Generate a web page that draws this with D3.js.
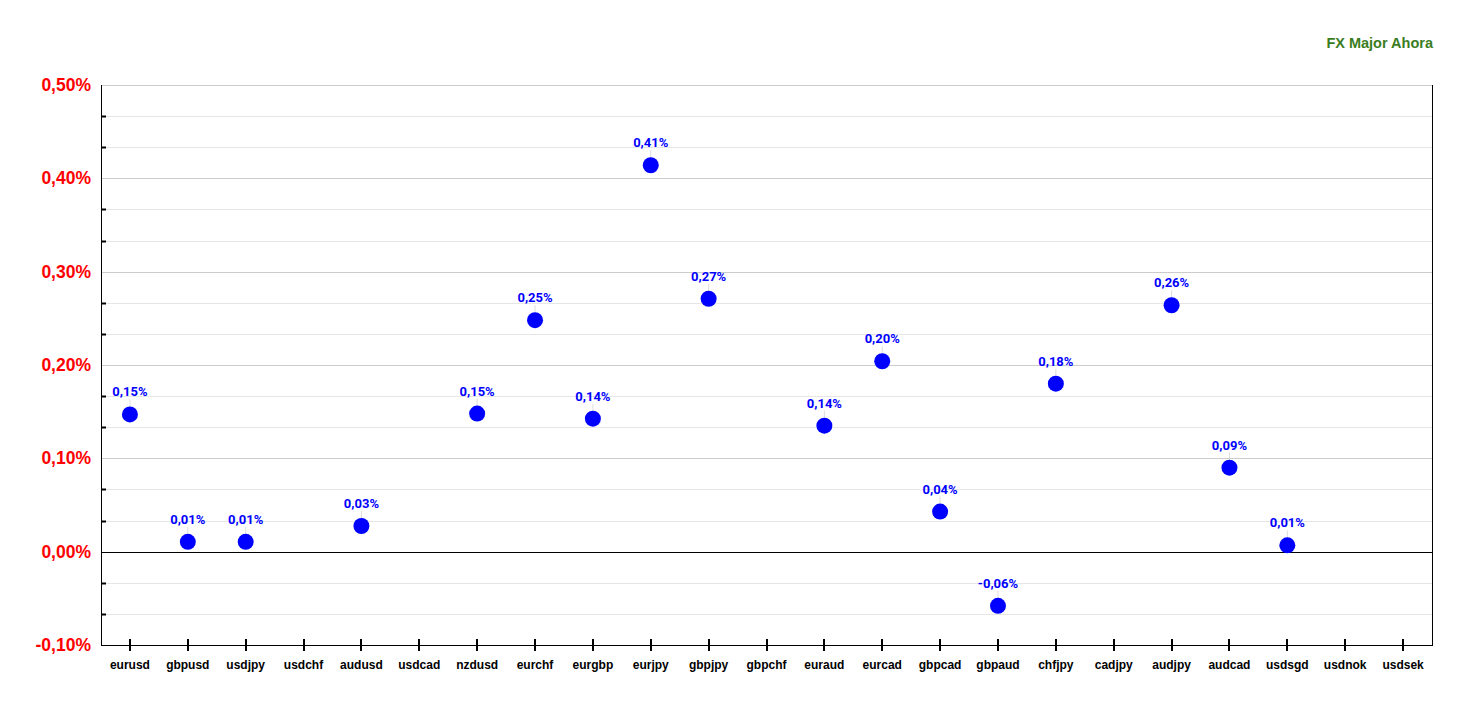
<!DOCTYPE html>
<html><head><meta charset="utf-8">
<script src="https://cdn.jsdelivr.net/npm/d3@7"></script>
<style>body{margin:0;background:#fff}</style>
</head><body>
<svg id="c" width="1468" height="707"></svg>
<script>
const categories = ["eurusd","gbpusd","usdjpy","usdchf","audusd","usdcad","nzdusd","eurchf","eurgbp","eurjpy","gbpjpy","gbpchf","euraud","eurcad","gbpcad","gbpaud","chfjpy","cadjpy","audjpy","audcad","usdsgd","usdnok","usdsek"];
const values = [0.147,0.0105,0.0105,null,0.0275,null,0.148,0.248,0.1425,0.414,0.271,null,0.135,0.204,0.043,-0.058,0.18,null,0.264,0.09,0.0068,null,null];
const labels = ["0,15%","0,01%","0,01%",null,"0,03%",null,"0,15%","0,25%","0,14%","0,41%","0,27%",null,"0,14%","0,20%","0,04%","-0,06%","0,18%",null,"0,26%","0,09%","0,01%",null,null];
const yTicks = [-0.10,0.00,0.10,0.20,0.30,0.40,0.50];
const yTickLabels = ["-0,10%","0,00%","0,10%","0,20%","0,30%","0,40%","0,50%"];
const title = "FX Major Ahora";

const svg = d3.select("#c");
const L=101, R=1432, T=85, B=645;
const x = d3.scaleBand().domain(categories).range([L,R]);
const y = d3.scaleLinear().domain([-0.10,0.50]).range([B,T]);

// minor grid
const minor = d3.range(0,19).map(i=>-0.10+i*0.1/3).filter((v,i)=>i%3!==0);
svg.append("g").selectAll("line").data(minor).join("line")
  .attr("x1",L).attr("x2",R).attr("y1",d=>Math.round(y(d))+0.5).attr("y2",d=>Math.round(y(d))+0.5)
  .attr("stroke","#e6e6e6");
svg.append("g").selectAll("line").data(minor).join("line")
  .attr("x1",L).attr("x2",L+5).attr("y1",d=>Math.round(y(d))+0.5).attr("y2",d=>Math.round(y(d))+0.5)
  .attr("stroke","#000").attr("stroke-width",2);
// major grid
svg.append("g").selectAll("line").data(yTicks.filter(d=>d!==0 && d!==-0.10)).join("line")
  .attr("x1",L).attr("x2",R).attr("y1",d=>Math.round(y(d))+0.5).attr("y2",d=>Math.round(y(d))+0.5)
  .attr("stroke","#cccccc");
// zero line
svg.append("line").attr("x1",L).attr("x2",R).attr("y1",Math.round(y(0))+0.5).attr("y2",Math.round(y(0))+0.5).attr("stroke","#000");
// axes lines
svg.append("line").attr("x1",L+0.5).attr("x2",L+0.5).attr("y1",T).attr("y2",B).attr("stroke","#000");
svg.append("line").attr("x1",R+0.5).attr("x2",R+0.5).attr("y1",T).attr("y2",B).attr("stroke","#000");
svg.append("line").attr("x1",L).attr("x2",R+1).attr("y1",B+0.5).attr("y2",B+0.5).attr("stroke","#000");

// y labels
svg.append("g").selectAll("text").data(yTicks).join("text")
  .attr("x",91).attr("y",d=>y(d)+6)
  .attr("text-anchor","end").attr("fill","#ff0000")
  .attr("font-family","Liberation Sans, Arial, sans-serif").attr("font-weight","bold").attr("font-size","17.5px")
  .text((d,i)=>yTickLabels[i]);

// x ticks
svg.append("g").selectAll("line").data(categories).join("line")
  .attr("x1",d=>Math.round(x(d)+x.bandwidth()/2)).attr("x2",d=>Math.round(x(d)+x.bandwidth()/2))
  .attr("y1",B-6).attr("y2",B+6).attr("stroke","#000").attr("stroke-width",2);
svg.append("g").selectAll("text").data(categories).join("text")
  .attr("x",d=>x(d)+x.bandwidth()/2).attr("y",B+24)
  .attr("text-anchor","middle").attr("fill","#000")
  .attr("font-family","Liberation Sans, Arial, sans-serif").attr("font-weight","bold").attr("font-size","12px")
  .text(d=>d);

// points
const pts = categories.map((c,i)=>({c,v:values[i],l:labels[i]})).filter(d=>d.v!==null);
svg.append("g").selectAll("line").data(pts).join("line")
  .attr("x1",d=>x(d.c)+x.bandwidth()/2).attr("x2",d=>x(d.c)+x.bandwidth()/2)
  .attr("y1",d=>y(d.v)-15).attr("y2",d=>y(d.v)).attr("stroke","#dddddd");
svg.append("g").selectAll("circle").data(pts).join("circle")
  .attr("cx",d=>x(d.c)+x.bandwidth()/2).attr("cy",d=>y(d.v)).attr("r",8).attr("fill","#0000ff");
svg.append("g").selectAll("text").data(pts).join("text")
  .attr("x",d=>x(d.c)+x.bandwidth()/2).attr("y",d=>y(d.v)-18)
  .attr("text-anchor","middle").attr("fill","#0000ff")
  .attr("font-family","Roboto, sans-serif").attr("font-weight","bold").attr("font-size","13px")
  .text(d=>d.l);

svg.append("text").attr("x",1433).attr("y",48).attr("text-anchor","end")
  .attr("fill","#3a7d1e").attr("font-family","Liberation Sans, Arial, sans-serif").attr("font-weight","bold").attr("font-size","14.5px")
  .text(title);
</script>
</body></html>
